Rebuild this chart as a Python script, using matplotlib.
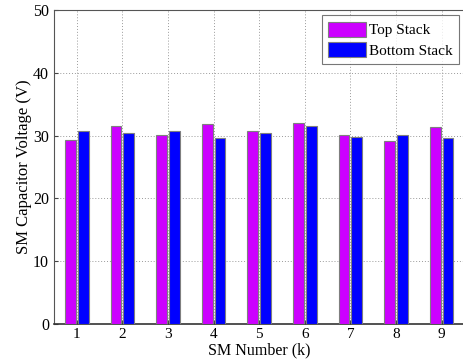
import numpy as np
import matplotlib
matplotlib.use("Agg")
import matplotlib.pyplot as plt

# ----- data -----
sm_number = [1, 2, 3, 4, 5, 6, 7, 8, 9]
top_stack = [29.25, 31.6, 30.15, 31.85, 30.7, 31.95, 30.15, 29.1, 31.35]
bottom_stack = [30.8, 30.5, 30.7, 29.55, 30.45, 31.5, 29.85, 30.15, 29.55]

plt.rcParams["font.family"] = ["Liberation Serif", "DejaVu Serif"]

fig = plt.figure(figsize=(4.63, 3.6), dpi=100)
ax = fig.add_axes([0.1166, 0.1, 0.8866, 0.872])

x = np.array(sm_number)
width = 0.235
ax.bar(x - 0.14, top_stack, width, color="#cc00ff", edgecolor="#7f7f7f",
       linewidth=0.8, label="Top Stack", zorder=3)
ax.bar(x + 0.14, bottom_stack, width, color="#0000ff", edgecolor="#7f7f7f",
       linewidth=0.8, label="Bottom Stack", zorder=3)

ax.set_xlim(0.5, 9.5)
ax.set_ylim(0, 50)
ax.set_xticks(x)
ax.set_yticks(np.arange(0, 51, 10))
ax.tick_params(direction="in", length=3, labelsize=11.5, color="#444444")
ax.tick_params(axis="x", pad=3, labelsize=11)
ax.grid(True, linestyle=(0, (1, 2)), color="#9a9a9a", linewidth=0.7, zorder=0)

for s in ax.spines.values():
    s.set_color("#555555")
    s.set_linewidth(0.8)
ax.spines["bottom"].set_color("#333333")
ax.spines["bottom"].set_linewidth(1.2)

ax.set_xlabel("SM Number (k)", fontsize=11.5)
ax.xaxis.set_label_coords(0.5, -0.058)
ax.set_ylabel("SM Capacitor Voltage (V)", fontsize=12, labelpad=1)

leg = ax.legend(loc="upper right", fontsize=11, frameon=True, fancybox=False,
                edgecolor="#555555", handlelength=2.5, handleheight=1.15,
                borderaxespad=0.35, borderpad=0.4, labelspacing=0.3,
                handletextpad=0.2)
leg.get_frame().set_linewidth(0.8)

fig.savefig("out.png", dpi=100)
